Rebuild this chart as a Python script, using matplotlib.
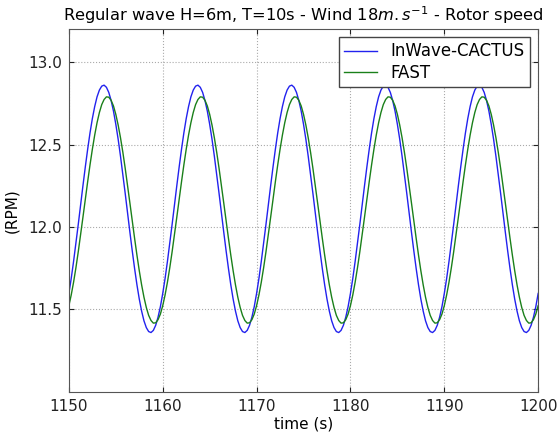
import numpy as np
import matplotlib
matplotlib.use("Agg")
import matplotlib.pyplot as plt

# rotor speed (RPM), sampled every 0.25 s from 1150 s to 1200 s
t = np.linspace(1150, 1200, 201)

inwave_cactus = [
    11.597, 11.688, 11.791, 11.901, 12.016, 12.134, 12.251, 12.364, 12.471, 12.570,
    12.657, 12.730, 12.789, 12.830, 12.854, 12.860, 12.847, 12.816, 12.767, 12.703,
    12.623, 12.532, 12.429, 12.319, 12.204, 12.086, 11.969, 11.856, 11.749, 11.650,
    11.563, 11.490, 11.431, 11.390, 11.366, 11.360, 11.373, 11.404, 11.453, 11.517,
    11.597, 11.688, 11.791, 11.901, 12.016, 12.134, 12.251, 12.364, 12.471, 12.570,
    12.657, 12.730, 12.789, 12.830, 12.854, 12.860, 12.847, 12.816, 12.767, 12.703,
    12.623, 12.532, 12.429, 12.319, 12.204, 12.086, 11.969, 11.856, 11.749, 11.650,
    11.563, 11.490, 11.431, 11.390, 11.366, 11.360, 11.373, 11.404, 11.453, 11.517,
    11.597, 11.688, 11.791, 11.901, 12.016, 12.134, 12.251, 12.364, 12.471, 12.570,
    12.657, 12.730, 12.789, 12.830, 12.854, 12.860, 12.847, 12.816, 12.767, 12.703,
    12.623, 12.532, 12.429, 12.319, 12.204, 12.086, 11.969, 11.856, 11.749, 11.650,
    11.563, 11.490, 11.431, 11.390, 11.366, 11.360, 11.373, 11.404, 11.453, 11.517,
    11.597, 11.688, 11.791, 11.901, 12.016, 12.134, 12.251, 12.364, 12.471, 12.570,
    12.657, 12.730, 12.789, 12.830, 12.854, 12.860, 12.847, 12.816, 12.767, 12.703,
    12.623, 12.532, 12.429, 12.319, 12.204, 12.086, 11.969, 11.856, 11.749, 11.650,
    11.563, 11.490, 11.431, 11.390, 11.366, 11.360, 11.373, 11.404, 11.453, 11.517,
    11.597, 11.688, 11.791, 11.901, 12.016, 12.134, 12.251, 12.364, 12.471, 12.570,
    12.657, 12.730, 12.789, 12.830, 12.854, 12.860, 12.847, 12.816, 12.767, 12.703,
    12.623, 12.532, 12.429, 12.319, 12.204, 12.086, 11.969, 11.856, 11.749, 11.650,
    11.563, 11.490, 11.431, 11.390, 11.366, 11.360, 11.373, 11.404, 11.453, 11.517,
    11.597,
]

fast = [
    11.523, 11.588, 11.665, 11.753, 11.850, 11.953, 12.060, 12.168, 12.274, 12.376,
    12.471, 12.557, 12.632, 12.694, 12.742, 12.773, 12.789, 12.787, 12.768, 12.734,
    12.683, 12.618, 12.541, 12.453, 12.356, 12.253, 12.146, 12.038, 11.932, 11.830,
    11.735, 11.649, 11.574, 11.512, 11.464, 11.433, 11.417, 11.419, 11.438, 11.472,
    11.523, 11.588, 11.665, 11.753, 11.850, 11.953, 12.060, 12.168, 12.274, 12.376,
    12.471, 12.557, 12.632, 12.694, 12.742, 12.773, 12.789, 12.787, 12.768, 12.734,
    12.683, 12.618, 12.541, 12.453, 12.356, 12.253, 12.146, 12.038, 11.932, 11.830,
    11.735, 11.649, 11.574, 11.512, 11.464, 11.433, 11.417, 11.419, 11.438, 11.472,
    11.523, 11.588, 11.665, 11.753, 11.850, 11.953, 12.060, 12.168, 12.274, 12.376,
    12.471, 12.557, 12.632, 12.694, 12.742, 12.773, 12.789, 12.787, 12.768, 12.734,
    12.683, 12.618, 12.541, 12.453, 12.356, 12.253, 12.146, 12.038, 11.932, 11.830,
    11.735, 11.649, 11.574, 11.512, 11.464, 11.433, 11.417, 11.419, 11.438, 11.472,
    11.523, 11.588, 11.665, 11.753, 11.850, 11.953, 12.060, 12.168, 12.274, 12.376,
    12.471, 12.557, 12.632, 12.694, 12.742, 12.773, 12.789, 12.787, 12.768, 12.734,
    12.683, 12.618, 12.541, 12.453, 12.356, 12.253, 12.146, 12.038, 11.932, 11.830,
    11.735, 11.649, 11.574, 11.512, 11.464, 11.433, 11.417, 11.419, 11.438, 11.472,
    11.523, 11.588, 11.665, 11.753, 11.850, 11.953, 12.060, 12.168, 12.274, 12.376,
    12.471, 12.557, 12.632, 12.694, 12.742, 12.773, 12.789, 12.787, 12.768, 12.734,
    12.683, 12.618, 12.541, 12.453, 12.356, 12.253, 12.146, 12.038, 11.932, 11.830,
    11.735, 11.649, 11.574, 11.512, 11.464, 11.433, 11.417, 11.419, 11.438, 11.472,
    11.523,
]

xticks = [1150, 1160, 1170, 1180, 1190, 1200]
yticks = [11.5, 12.0, 12.5, 13.0]

fig = plt.figure(figsize=(5.6, 4.34), dpi=100)
ax = fig.add_axes([0.123, 0.097, 0.838, 0.836])

ax.plot(t, inwave_cactus, color="#2222ee", lw=1.0, label="InWave-CACTUS")
ax.plot(t, fast, color="#1a801a", lw=1.0, label="FAST")

ax.set_xlim(1150, 1200)
ax.set_ylim(11.0, 13.2)
ax.set_xticks(xticks)
ax.set_yticks(yticks)
ax.tick_params(direction="in", top=True, right=True, labelsize=11, colors="#222222", pad=5)
for s in ax.spines.values():
    s.set_color("#555555")
ax.grid(True, ls=":", color="#aaaaaa", lw=0.8)

ax.set_xlabel("time (s)", fontsize=11, labelpad=2)
ax.set_ylabel("(RPM)", fontsize=11, labelpad=6)
ax.set_title(r"Regular wave H=6m, T=10s - Wind $18 m.s^{-1}$ - Rotor speed", fontsize=11.7)

leg = ax.legend(loc="upper right", fontsize=12, fancybox=False, framealpha=1,
                handlelength=2.0, borderaxespad=0.5, borderpad=0.3, labelspacing=0.2)
leg.get_frame().set_edgecolor("#444444")

fig.savefig("out.png", dpi=100)
